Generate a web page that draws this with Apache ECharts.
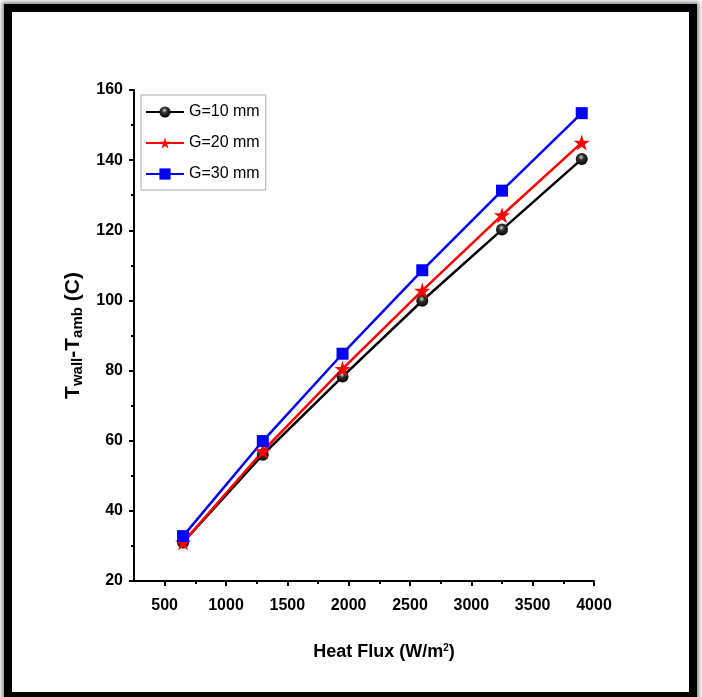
<!DOCTYPE html>
<html>
<head>
<meta charset="utf-8">
<script src="https://cdn.jsdelivr.net/npm/echarts@6/dist/echarts.min.js"></script>
<style>
  html, body { margin: 0; padding: 0; background: #fff; }
  #frame {
    position: absolute; left: 4px; top: 4px; width: 677px; height: 680px;
    border: 8px solid #000; box-shadow: 0 0 4px 2px #888; background: #fff;
  }
  #main { position: absolute; left: 0; top: 0; width: 702px; height: 697px; }
</style>
</head>
<body>
<div id="frame"></div>
<div id="main"></div>
<script>
// heat flux (W/m2) and temperature difference per gap size
const heatFlux = [650, 1300, 1950, 2600, 3250, 3900];
const g10 = [31, 56, 78.3, 99.9, 120.2, 140.3];
const g20 = [31, 57, 80.5, 102.8, 124.3, 145];
const g30 = [32.8, 59.9, 84.8, 108.6, 131.3, 153.4];
const xLabels = [500, 1000, 1500, 2000, 2500, 3000, 3500, 4000];
const xMinor = [750, 1250, 1750, 2250, 2750, 3250, 3750];

const chart = echarts.init(document.getElementById("main"));
const axisFont = "'Liberation Sans', Arial, sans-serif";
const starPath = 'path://M50,0 L61.8,35.5 L99,35.5 L69,57.5 L80.5,93 L50,71 L19.5,93 L31,57.5 L1,35.5 L38.2,35.5 Z';
const sphere = {
    type: 'radial', x: 0.45, y: 0.35, r: 0.65,
    colorStops: [{ offset: 0, color: '#d8d8d8' }, { offset: 0.35, color: '#333' }, { offset: 1, color: '#000' }]
};

function pairs(ys) {
    return heatFlux.map(function (x, i) { return [x, ys[i]]; });
}

const option = {
    animation: false,
    grid: { left: 134, right: 108, top: 90, bottom: 116 },
    legend: {
        orient: 'vertical',
        left: 141, top: 95,
        itemWidth: 38, itemHeight: 14, itemGap: 15,
        padding: [9, 6, 8, 4],
        borderColor: '#aaa', borderWidth: 1,
        textStyle: { fontFamily: axisFont, fontSize: 16, color: '#000' },
        data: ['G=10 mm', 'G=20 mm', 'G=30 mm']
    },
    xAxis: [{
        type: 'value', min: 250, max: 4000,
        axisLine: { lineStyle: { color: '#000', width: 2 } },
        axisTick: { inside: false, length: 5, lineStyle: { width: 2 }, customValues: xLabels },
        axisLabel: {
            customValues: xLabels, color: '#000', fontWeight: 'bold', fontSize: 16, fontFamily: axisFont, margin: 17,
            formatter: function (v) { return String(v); }
        },
        splitLine: { show: false },
        name: '{n|Heat Flux (W/m}{s|2}{n|)}',
        nameLocation: 'middle', nameGap: 62,
        nameTextStyle: {
            padding: [0, 0, 0, 40],
            rich: {
                n: { fontSize: 18, fontWeight: 'bold', fontFamily: axisFont, color: '#000' },
                s: { fontSize: 10, fontWeight: 'bold', fontFamily: axisFont, color: '#000', verticalAlign: 'top' }
            }
        }
    }, {
        type: 'value', min: 250, max: 4000, position: 'bottom',
        axisLine: { show: false },
        axisTick: { length: 3, lineStyle: { width: 2, color: '#000' }, customValues: xMinor },
        axisLabel: { show: false },
        splitLine: { show: false }
    }],
    yAxis: {
        type: 'value', min: 20, max: 160, interval: 20,
        axisLine: { show: true, lineStyle: { color: '#000', width: 2 } },
        axisTick: { show: true, length: 5, lineStyle: { width: 2 } },
        minorTick: { show: true, splitNumber: 2, length: 3, lineStyle: { color: '#000', width: 2 } },
        axisLabel: { color: '#000', fontWeight: 'bold', fontSize: 16, fontFamily: axisFont, margin: 11 },
        splitLine: { show: false },
        name: '{n|T}{s|wall}{n|-T}{s|amb}{n| (C)}',
        nameLocation: 'middle', nameGap: 48, nameRotate: 90,
        nameTextStyle: {
            rich: {
                n: { fontSize: 21, fontWeight: 'bold', fontFamily: axisFont, color: '#000', lineHeight: 24 },
                s: { fontSize: 15, fontWeight: 'bold', fontFamily: axisFont, color: '#000', verticalAlign: 'bottom', padding: [9, 0, 0, 0] }
            }
        }
    },
    series: [{
        name: 'G=10 mm', type: 'line', data: pairs(g10),
        symbol: 'circle', symbolSize: 12,
        lineStyle: { color: '#000', width: 2.5 },
        itemStyle: { color: sphere }
    }, {
        name: 'G=20 mm', type: 'line', data: pairs(g20),
        symbol: starPath, symbolSize: 16,
        lineStyle: { color: '#ff0000', width: 2.5 },
        itemStyle: { color: '#ff0000' }
    }, {
        name: 'G=30 mm', type: 'line', data: pairs(g30),
        symbol: 'rect', symbolSize: 12,
        lineStyle: { color: '#0000ff', width: 2.5 },
        itemStyle: { color: '#0000ff' }
    }]
};

chart.setOption(option);
</script>
</body>
</html>
